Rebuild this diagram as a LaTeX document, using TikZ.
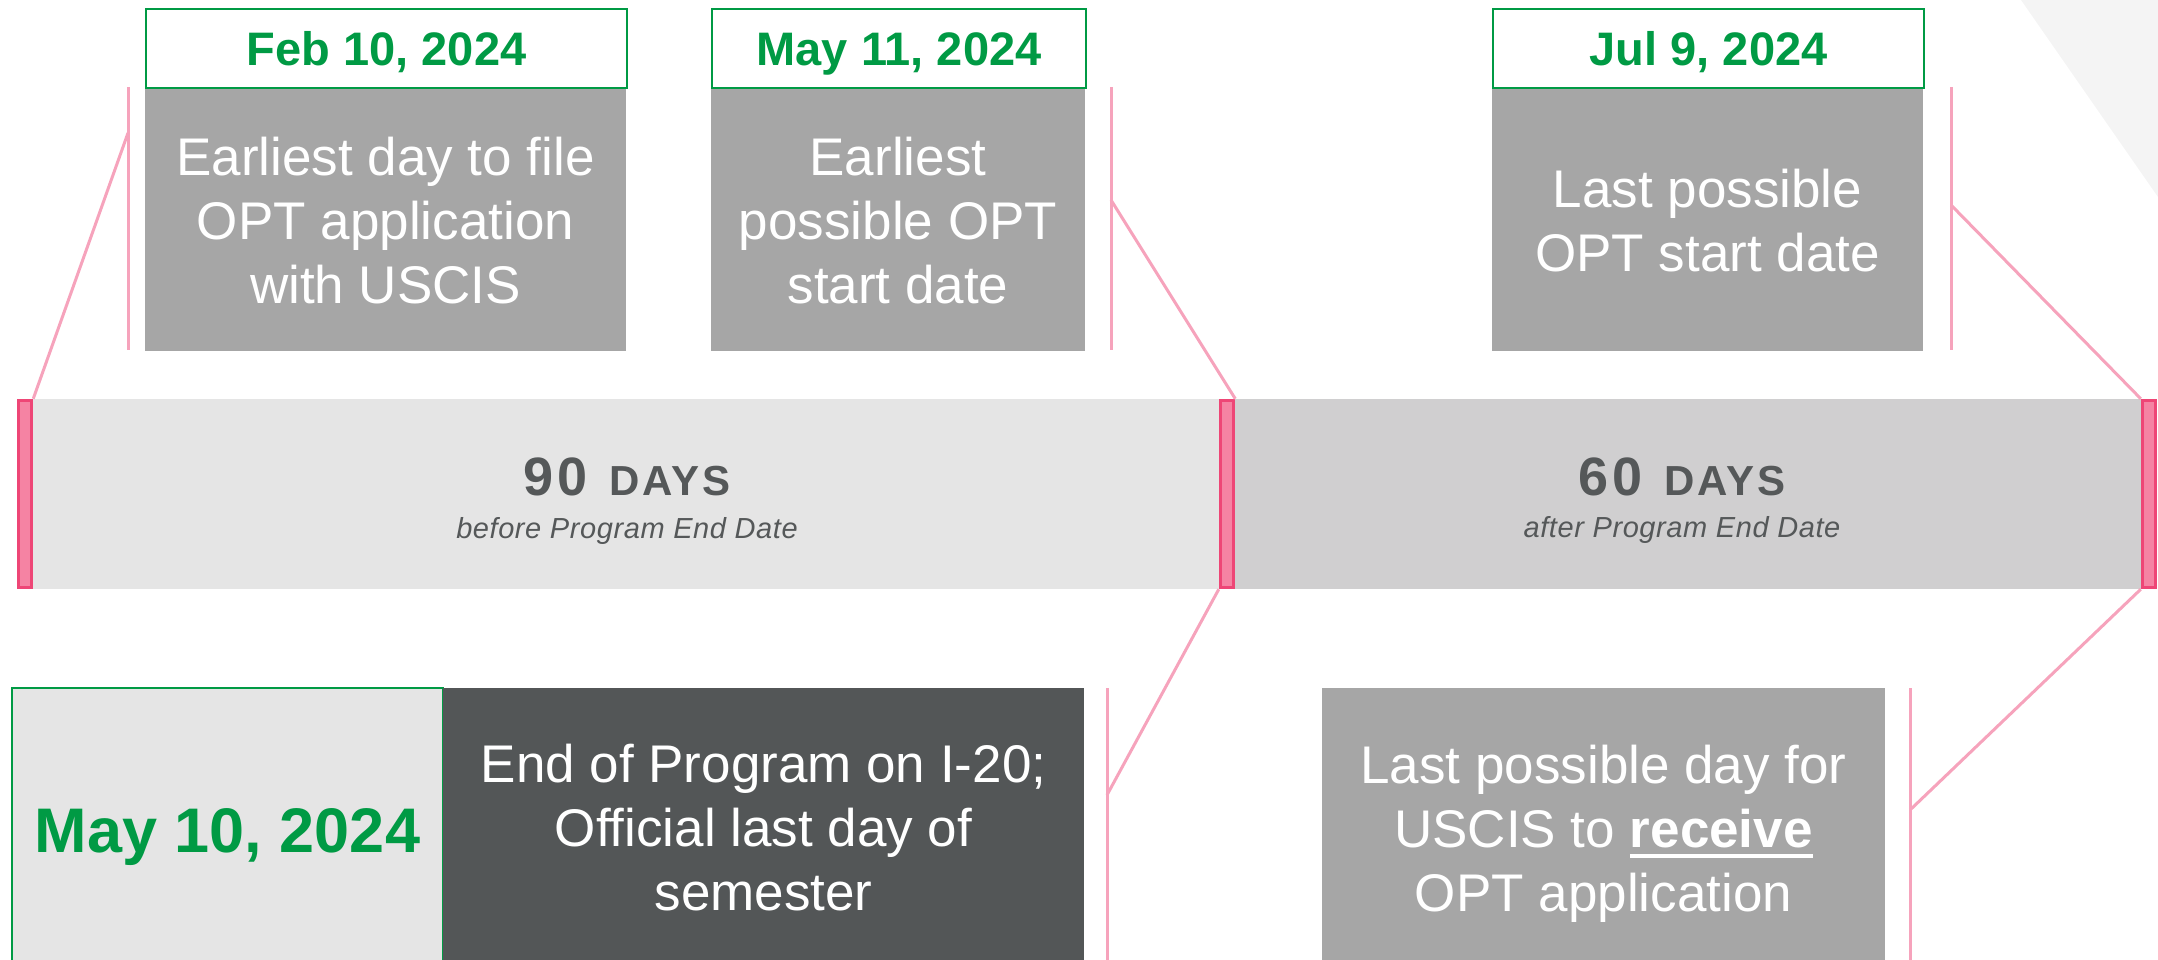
\documentclass[tikz,border=0pt]{standalone}
\usepackage{fontspec}
\setmainfont{Liberation Sans}
\newfontfamily\daysfont{Liberation Sans}[LetterSpace=7]
\newfontfamily\subfont{Liberation Sans}[LetterSpace=2]
\definecolor{optgreen}{RGB}{0,154,68}
\definecolor{boxgray}{RGB}{166,166,166}
\definecolor{darkbox}{RGB}{83,86,87}
\definecolor{barlight}{RGB}{229,229,229}
\definecolor{bardark}{RGB}{208,207,208}
\definecolor{daygray}{RGB}{85,88,89}
\definecolor{pinkline}{RGB}{246,163,188}
\definecolor{markfill}{RGB}{245,131,163}
\definecolor{markdraw}{RGB}{238,70,118}
\definecolor{bgpale}{RGB}{244,244,244}
\newsavebox\rcvbox
\newcommand\ulbold[1]{\sbox\rcvbox{\bfseries #1}\rlap{\rule[-10pt]{\wd\rcvbox}{4pt}}\usebox\rcvbox}
\begin{document}
\begin{tikzpicture}[x=1pt,y=-1pt,
  datebox/.style={draw=optgreen, line width=2.2pt, fill=white, anchor=north west, inner sep=0pt,
    minimum height=79pt, text=optgreen, font=\fontsize{47}{56}\selectfont\bfseries,
    text height=34pt, text depth=0pt},
  graybox/.style={fill=boxgray, anchor=north west, inner sep=0pt},
  bodytext/.style={text=white, font=\fontsize{53}{64}\selectfont, align=center, inner sep=0pt, anchor=north},
  barseg/.style={anchor=north west, inner sep=0pt, minimum height=190pt},
  marker/.style={draw=markdraw, fill=markfill, line width=3.5pt, inner sep=0pt, minimum width=13pt, minimum height=187pt},
  pink/.style={draw=pinkline, line width=3pt},
  daysnum/.style={text=daygray, inner sep=0pt, anchor=base, font=\daysfont\bfseries},
  subtext/.style={text=daygray, inner sep=0pt, anchor=base, font=\subfont\itshape\fontsize{29}{29}\selectfont},
  greenline/.style={draw=optgreen, line width=2pt}
]
\useasboundingbox (0,0) rectangle (2158,960);
% pale background shape
\fill[bgpale] (2021,0) -- (2158,0) -- (2158,197) -- cycle;

% top boxes
\node[graybox, minimum width=481pt, minimum height=264pt] (gf) at (145,87) {};
\node[datebox, minimum width=481pt] (fd) at (145,8) {Feb 10, 2024};
\node[bodytext] (tf) at (385.5,137) {Earliest day to file\\OPT application\\with USCIS};

\node[graybox, minimum width=374pt, minimum height=264pt] (gm) at (711,87) {};
\node[datebox, minimum width=374pt] (fm) at (711,8) {May 11, 2024};
\node[bodytext] (tm) at (898,137) {Earliest\\possible OPT\\start date};

\node[graybox, minimum width=431pt, minimum height=264pt] (gj) at (1492,87) {};
\node[datebox, minimum width=431pt] (fj) at (1492,8) {Jul 9, 2024};
\node[bodytext] (tj) at (1707.5,169) {Last possible\\OPT start date};

% bar
\node[barseg, fill=barlight, minimum width=1207pt] (bar1) at (20,399) {};
\node[barseg, fill=bardark, minimum width=922pt] (bar2) at (1227,399) {};
\node[marker] (m1) at (25,494) {};
\node[marker] (m2) at (1227,494) {};
\node[marker] (m3) at (2149,494) {};

\node[daysnum] (n90) at (627,495) {{\fontsize{54}{54}\selectfont 90}\hspace{22pt}{\fontsize{42}{42}\selectfont DAYS}};
\node[subtext] (s90) at (627,538) {before Program End Date};
\node[daysnum] (n60) at (1682,495) {{\fontsize{54}{54}\selectfont 60}\hspace{22pt}{\fontsize{42}{42}\selectfont DAYS}};
\node[subtext] (s60) at (1682,537) {after Program End Date};

% bottom boxes
\node[graybox, fill=barlight, minimum width=431pt, minimum height=272pt] (b10) at (12,688) {};
\draw[greenline] (b10.south west) -- (b10.north west) -- (b10.north east) -- (b10.south east);
\node[graybox, fill=darkbox, minimum width=641pt, minimum height=272pt] (bd) at (443,688) {};
\node[text=optgreen, inner sep=0pt, anchor=base, font=\fontsize{63}{63}\selectfont\bfseries] (t10) at (227.5,852) {May 10, 2024};
\node[bodytext] (tend) at (763.5,744) {End of Program on I-20;\\Official last day of\\semester};

\node[graybox, minimum width=563pt, minimum height=272pt] (br) at (1322,688) {};
\node[bodytext] (trcv) at (1603.5,745) {Last possible day for\\USCIS to \ulbold{receive}\\OPT application};

% pink connectors
\coordinate (v1t) at (128,87);  \coordinate (v1b) at (128,350);  \coordinate (j1) at (128,133);
\coordinate (v2t) at (1111,87); \coordinate (v2b) at (1111,350); \coordinate (j2) at (1111,200);
\coordinate (v3t) at (1951,87); \coordinate (v3b) at (1951,350); \coordinate (j3) at (1951,205);
\coordinate (v4t) at (1107,688); \coordinate (v4b) at (1107,960); \coordinate (j4) at (1107,795);
\coordinate (v5t) at (1910,688); \coordinate (v5b) at (1910,960); \coordinate (j5) at (1910,810);

\draw[pink] (v1t) -- (v1b);
\draw[pink] (v2t) -- (v2b);
\draw[pink] (v3t) -- (v3b);
\draw[pink] (v4t) -- (v4b);
\draw[pink] (v5t) -- (v5b);
\draw[pink] (j1) -- (m1.north east);
\draw[pink] (j2) -- (m2.north east);
\draw[pink] (j3) -- (m3.north west);
\draw[pink] (m2.south west) -- (j4);
\draw[pink] (m3.south west) -- (j5);
\end{tikzpicture}
\end{document}
